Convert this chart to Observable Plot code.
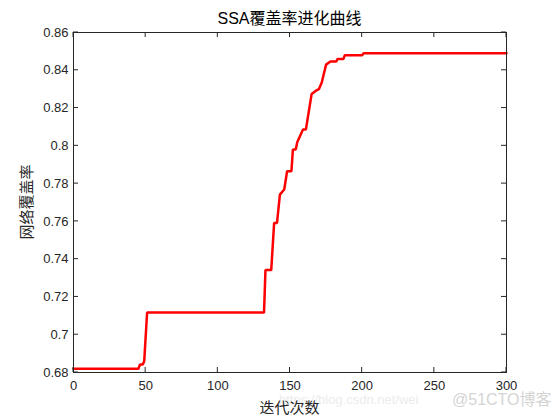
<!DOCTYPE html>
<html>
<head>
<meta charset="utf-8">
<script src="https://cdn.jsdelivr.net/npm/d3@7"></script>
<script src="https://cdn.jsdelivr.net/npm/@observablehq/plot@0.6"></script>
<style>
  html, body { margin: 0; padding: 0; background: #ffffff; }
  #chart { width: 560px; height: 420px; }
</style>
</head>
<body>
<div id="chart"></div>
<script>
// Data (iteration breakpoints and coverage values)
const iterations = [0, 45, 46, 48, 49, 51, 132, 133, 137, 139, 141, 143, 146, 148, 151, 152, 154, 155, 159, 161, 165, 168, 170, 172, 175, 178, 182, 183, 187, 188, 200, 201, 300];
const coverage   = [0.682, 0.682, 0.6842, 0.6842, 0.686, 0.7117, 0.7117, 0.7342, 0.7342, 0.7592, 0.7592, 0.7742, 0.7769, 0.7866, 0.7866, 0.798, 0.798, 0.8019, 0.8086, 0.8086, 0.8275, 0.8292, 0.8300, 0.8335, 0.843, 0.8446, 0.8446, 0.846, 0.846, 0.848, 0.848, 0.849, 0.849];
const xTicks = [0, 50, 100, 150, 200, 250, 300];
const yTicks = [0.68, 0.7, 0.72, 0.74, 0.76, 0.78, 0.8, 0.82, 0.84, 0.86];
const titleText = "SSA覆盖率进化曲线";
const xLabel = "迭代次数";
const yLabel = "网络覆盖率";
const watermark1 = "https://blog.csdn.net/wei";
const watermark2 = "@51CTO博客";

(function () {
const data = iterations.map((x, i) => ({x, y: coverage[i]}));
const axisColor = "#262626";

const chart = Plot.plot({
  width: 560,
  height: 420,
  marginLeft: 73,
  marginRight: 54,
  marginTop: 32,
  marginBottom: 48,
  style: {fontFamily: "'Liberation Sans', Arial, sans-serif", fontSize: "13px", background: "#ffffff", color: axisColor},
  x: {domain: [0, 300]},
  y: {domain: [0.68, 0.86]},
  marks: [
    Plot.axisX(xTicks, {tickSize: 0, tickPadding: 8, fontSize: 13, fill: axisColor, label: null, tickFormat: d => String(d)}),
    Plot.axisY(yTicks, {tickSize: 0, tickPadding: 5, fontSize: 13, fill: axisColor, label: null, tickFormat: d => String(+d.toFixed(2))}),
    Plot.line(data, {x: "x", y: "y", stroke: "#ff0000", strokeWidth: 2.5, strokeLinejoin: "miter"}),
    Plot.frame({stroke: axisColor, strokeWidth: 1})
  ]
});

const svg = d3.select(chart);
const xs = chart.scale("x"), ys = chart.scale("y");
const pLeft = 73, pRight = 560 - 54, pTop = 32, pBottom = 420 - 48;
const tl = 5;
const g = svg.append("g").attr("stroke", axisColor).attr("stroke-width", 1);
xTicks.forEach(v => {
  const px = xs.apply(v);
  g.append("line").attr("x1", px).attr("x2", px).attr("y1", pBottom).attr("y2", pBottom - tl);
  g.append("line").attr("x1", px).attr("x2", px).attr("y1", pTop).attr("y2", pTop + tl);
});
yTicks.forEach(v => {
  const py = ys.apply(v);
  g.append("line").attr("x1", pLeft).attr("x2", pLeft + tl).attr("y1", py).attr("y2", py);
  g.append("line").attr("x1", pRight).attr("x2", pRight - tl).attr("y1", py).attr("y2", py);
});

svg.append("text")
  .attr("x", 279).attr("y", 401)
  .attr("text-anchor", "start").attr("dominant-baseline", "middle")
  .attr("font-family", "'Liberation Sans', sans-serif")
  .attr("font-size", 13).attr("fill", "#ececec")
  .text(watermark1);

svg.append("text")
  .attr("x", 452).attr("y", 401)
  .attr("text-anchor", "start").attr("dominant-baseline", "middle")
  .attr("font-family", "'Liberation Sans', 'Noto Sans CJK SC', sans-serif")
  .attr("font-size", 16).attr("fill", "#d4d4d4")
  .text(watermark2);

svg.append("text")
  .attr("x", (pLeft + pRight) / 2).attr("y", 20)
  .attr("text-anchor", "middle").attr("dominant-baseline", "middle")
  .attr("font-family", "'Liberation Sans', 'Noto Sans CJK SC', sans-serif")
  .attr("font-size", 16).attr("fill", "#000000")
  .text(titleText);

svg.append("text")
  .attr("x", (pLeft + pRight) / 2).attr("y", 409)
  .attr("text-anchor", "middle").attr("dominant-baseline", "middle")
  .attr("font-family", "'Noto Sans CJK SC', sans-serif")
  .attr("font-size", 15).attr("fill", axisColor)
  .text(xLabel);

svg.append("text")
  .attr("transform", `translate(28, ${(pTop + pBottom) / 2}) rotate(-90)`)
  .attr("text-anchor", "middle").attr("dominant-baseline", "middle")
  .attr("font-family", "'Noto Sans CJK SC', sans-serif")
  .attr("font-size", 15).attr("fill", axisColor)
  .text(yLabel);

document.getElementById("chart").appendChild(chart);
})();
</script>
</body>
</html>
